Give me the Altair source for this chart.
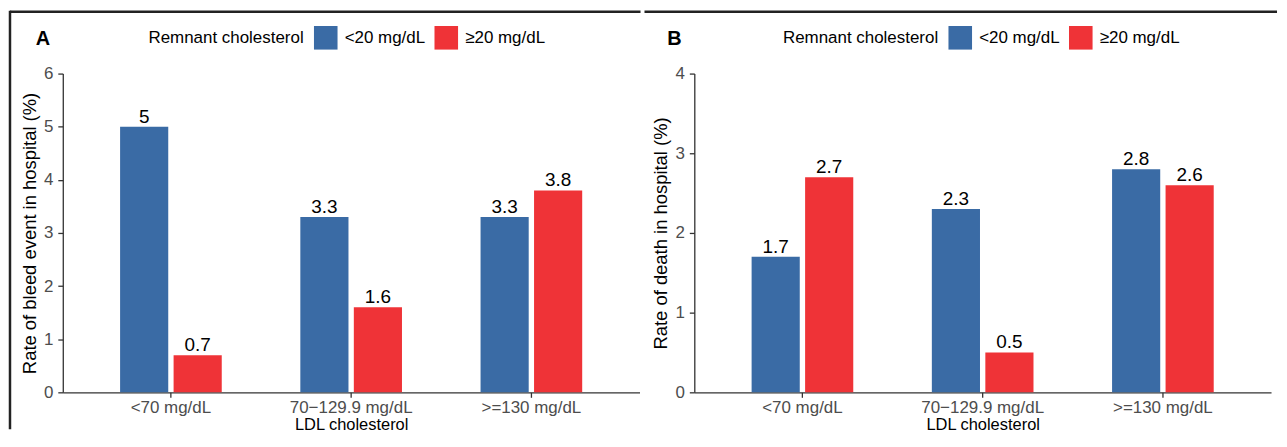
import altair as alt
import pandas as pd

FONT = "Liberation Sans"

ldl_levels = ["<70 mg/dL", "70\u2212129.9 mg/dL", ">=130 mg/dL"]
remnant_groups = ["<20 mg/dL", "\u226520 mg/dL"]
bleed_low = [5, 3.3, 3.3]
bleed_high = [0.7, 1.6, 3.8]
death_low = [1.7, 2.3, 2.8]
death_high = [2.7, 0.5, 2.6]
panel_letters = ["A", "B"]
bar_colors = ["#3A6BA5", "#EF3337"]


def make_df(low, high):
    rows = []
    for i, lvl in enumerate(ldl_levels):
        for g, vals in zip(remnant_groups, (low, high)):
            rows.append({"ldl": lvl, "group": g, "value": vals[i], "label": f"{vals[i]:g}"})
    return pd.DataFrame(rows)


def panel(df, ymax, ytitle, letter, legend_x, line_x0, line_x1, left_border):
    x = alt.X(
        "ldl:N",
        sort=ldl_levels,
        title="LDL cholesterol",
        scale=alt.Scale(paddingInner=0.436, paddingOuter=0.318),
        axis=alt.Axis(
            labelAngle=0, labelFontSize=17, labelColor="#4D4D4D", labelFont=FONT,
            tickSize=5, tickColor="#333333", tickWidth=1.3,
            domainColor="#333333", domainWidth=1.3, labelPadding=2,
            titleFontSize=16.5, titleColor="black", titleFontWeight="normal",
            titleFont=FONT, titlePadding=1, grid=False,
        ),
    )
    xo = alt.XOffset("group:N", sort=remnant_groups,
                     scale=alt.Scale(paddingInner=0.1, paddingOuter=0))
    y = alt.Y(
        "value:Q",
        scale=alt.Scale(domain=[0, ymax], nice=False, zero=True),
        axis=alt.Axis(
            values=list(range(ymax + 1)), title=ytitle, labelFontSize=17,
            labelColor="#4D4D4D", labelFont=FONT, tickSize=5, tickColor="#333333",
            tickWidth=1.3, domainColor="#333333", domainWidth=1.3, labelPadding=5,
            titleFontSize=18.5, titleColor="black", titleFontWeight="normal",
            titleFont=FONT, titlePadding=4, grid=False,
        ),
    )
    color = alt.Color(
        "group:N",
        sort=remnant_groups,
        scale=alt.Scale(domain=remnant_groups, range=bar_colors),
        legend=alt.Legend(
            title="Remnant cholesterol", orient="none", legendX=legend_x, legendY=-48,
            direction="horizontal", titleOrient="left", titleAnchor="middle",
            titleBaseline="middle", titleFontSize=17, titleFontWeight="normal",
            titleColor="black", titleFont=FONT, titlePadding=10,
            labelFontSize=17, labelColor="black", labelFont=FONT,
            symbolType="square", symbolSize=560, symbolStrokeWidth=0,
            symbolOpacity=1, columnPadding=9, labelOffset=7,
        ),
    )
    base = alt.Chart(df)
    bars = base.mark_bar().encode(x=x, xOffset=xo, y=y, color=color)
    text = base.mark_text(fontSize=19, font=FONT, color="black",
                          baseline="alphabetic", dy=-4).encode(
        x=x, xOffset=xo, y=y, text="label:N")
    bdf = pd.DataFrame({"k": [0]})
    top = alt.Chart(bdf).mark_rule(color="#222222", strokeWidth=2.5).encode(
        x=alt.value(line_x0), x2=alt.value(line_x1), y=alt.value(-62))
    ldf = pd.DataFrame({"letter": [letter]})
    letter_mark = alt.Chart(ldf).mark_text(
        fontSize=20, fontWeight="bold", font=FONT, color="black",
        align="center", baseline="alphabetic").encode(
        x=alt.value(-20), y=alt.value(-29), text="letter:N")
    layers = [bars, text, top, letter_mark]
    if left_border:
        left = alt.Chart(bdf).mark_rule(color="#222222", strokeWidth=2.5).encode(
            x=alt.value(-53), y=alt.value(-63), y2=alt.value(357))
        layers.append(left)
    return alt.layer(*layers).properties(width=579, height=320)


pa = panel(make_df(bleed_low, bleed_high), 6, "Rate of bleed event in hospital (%)",
           panel_letters[0], 86, -53, 580, True)
pb = panel(make_df(death_low, death_high), 4, "Rate of death in hospital (%)",
           panel_letters[1], 89, -50, 585, False)

chart = (
    alt.hconcat(pa, pb, spacing=0)
    .resolve_scale(x="independent", y="independent")
    .resolve_legend(color="independent")
    .properties(padding=0, background="white")
    .configure_view(strokeWidth=0)
)

chart.save("out.html", embed_options={"renderer": "svg", "actions": False})
